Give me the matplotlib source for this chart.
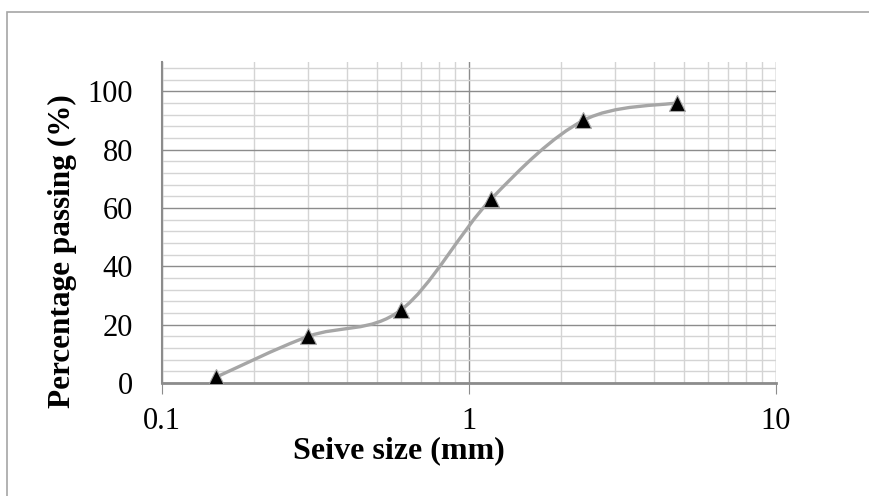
import matplotlib
matplotlib.use("Agg")
import matplotlib.pyplot as plt
from matplotlib.path import Path
from matplotlib.patches import PathPatch, Rectangle
from matplotlib.ticker import FixedLocator, NullFormatter
import numpy as np

# sieve analysis data
sieve = [0.15, 0.3, 0.6, 1.18, 2.36, 4.75]
passing = [2, 16, 25, 63, 90, 96]
xticks = [0.1, 1, 10]
xtick_labels = ["0.1", "1", "10"]
yticks = [0, 20, 40, 60, 80, 100]

plt.rcParams["font.family"] = ["Liberation Serif", "DejaVu Serif"]

fig = plt.figure(figsize=(8.7, 4.96), dpi=100)
ax = fig.add_axes([162 / 870, 1 - 383 / 496, 614 / 870, 321 / 496])

# outer chart frame
fig.patches.append(Rectangle((7 / 870, -0.1), 1.1, 1 - 12 / 496 + 0.1,
                             transform=fig.transFigure, fill=False,
                             edgecolor="#a6a6a6", linewidth=1.2))

ax.set_xscale("log")
ax.set_xlim(0.1, 10)
ax.set_ylim(0, 110)

# smooth line (excel-like), bezier control points in log-x space
lx = np.log10(sieve)
py = np.array(passing, dtype=float)
verts = [(sieve[0], passing[0])]
codes = [Path.MOVETO]
t = 1 / 6
for i in range(len(lx) - 1):
    x0, y0 = (lx[i - 1], py[i - 1]) if i > 0 else (lx[i], py[i])
    x3, y3 = (lx[i + 2], py[i + 2]) if i + 2 < len(lx) else (lx[i + 1], py[i + 1])
    c1 = (lx[i] + (lx[i + 1] - x0) * t, py[i] + (py[i + 1] - y0) * t)
    c2 = (lx[i + 1] - (x3 - lx[i]) * t, py[i + 1] - (y3 - py[i]) * t)
    verts += [(10 ** c1[0], c1[1]), (10 ** c2[0], c2[1]), (sieve[i + 1], passing[i + 1])]
    codes += [Path.CURVE4] * 3
ax.add_patch(PathPatch(Path(verts, codes), facecolor="none",
                       edgecolor="#a6a6a6", linewidth=2.4, zorder=3))
ax.plot(sieve, passing, linestyle="none", marker="^", markersize=11,
        markerfacecolor="black", markeredgecolor="#a6a6a6",
        markeredgewidth=0.8, zorder=4)

# grid
ax.xaxis.set_major_locator(FixedLocator(xticks))
ax.set_xticklabels(xtick_labels)
ax.xaxis.set_minor_locator(FixedLocator([d * k for d in (0.1, 1) for k in range(2, 10)]))
ax.xaxis.set_minor_formatter(NullFormatter())
ax.set_yticks(yticks)
ax.yaxis.set_minor_locator(FixedLocator(np.arange(0, 110, 4)))
ax.grid(which="major", color="#8c8c8c", linewidth=1.0)
ax.grid(which="minor", color="#d4d4d4", linewidth=1.0)
ax.set_axisbelow(True)

for s in ["top", "right"]:
    ax.spines[s].set_visible(False)
ax.spines["left"].set_color("#8c8c8c")
ax.spines["left"].set_linewidth(1.5)
ax.spines["bottom"].set_color("#8c8c8c")
ax.spines["bottom"].set_linewidth(2)

ax.tick_params(axis="x", which="major", length=8, color="#8c8c8c",
               labelsize=22, pad=9)
ax.tick_params(axis="x", which="minor", length=0)
ax.tick_params(axis="y", which="both", length=0, labelsize=22, pad=21)

ax.set_xlabel("Seive size (mm)", fontsize=23, fontweight="bold")
ax.xaxis.set_label_coords(0.386, -0.166)
ax.set_ylabel("Percentage passing (%)", fontsize=22.5, fontweight="bold")
ax.yaxis.set_label_coords(-0.138, 0.41)

fig.savefig("out.png", dpi=100)
